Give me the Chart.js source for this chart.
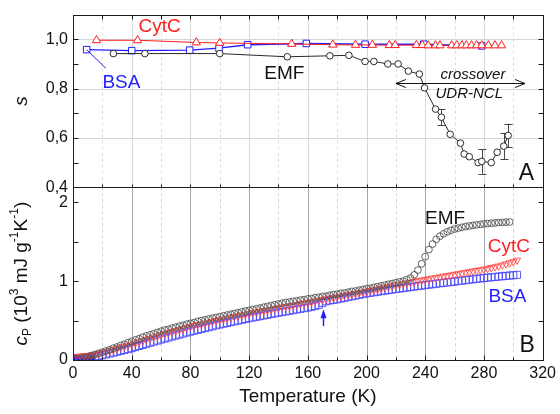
<!DOCTYPE html>
<html>
<head>
<meta charset="utf-8">
<script src="https://cdn.jsdelivr.net/npm/chart.js@4.4.0/dist/chart.umd.min.js"></script>
<style>
  html, body { margin:0; padding:0; background:#fff; }
</style>
</head>
<body>
<canvas id="chart" width="560" height="414"></canvas>
<script>
// ---- panel A: order parameter s(T) ----
const sCytcT = [16, 44, 84, 100, 149, 177, 192.5, 204, 215.5, 219.5, 234, 238, 242, 247, 250, 258, 261.5, 265, 268, 271.5, 275, 278.5, 283, 287.5, 292];
const sCytc  = [0.996, 0.996, 0.987, 0.985, 0.981, 0.978, 0.977, 0.977, 0.976, 0.976, 0.976, 0.976, 0.975, 0.975, 0.975, 0.975, 0.975, 0.975, 0.975, 0.975, 0.975, 0.975, 0.975, 0.975, 0.975];
const sBsaT  = [9.3, 40, 79.5, 99.5, 119, 159, 199, 239, 278.5];
const sBsa   = [0.958, 0.954, 0.956, 0.964, 0.978, 0.983, 0.980, 0.980, 0.973];
const sEmfT  = [27.5, 49, 100, 146, 175, 188, 199, 205, 214.5, 221.5, 228.5, 236, 239.5, 247, 251, 257, 264, 266.5, 270, 276, 278.5, 285, 289, 293.5, 296.5];
const sEmf   = [0.942, 0.942, 0.942, 0.929, 0.933, 0.935, 0.910, 0.910, 0.900, 0.900, 0.871, 0.859, 0.803, 0.717, 0.684, 0.615, 0.579, 0.535, 0.524, 0.500, 0.505, 0.500, 0.542, 0.567, 0.610];
const sEmfErr = [0, 0, 0, 0, 0, 0, 0, 0, 0, 0, 0, 0, 0, 0, 0.032, 0, 0, 0, 0, 0, 0.05, 0, 0, 0.052, 0.048];

// ---- panel B: heat capacity cP(T), 10^3 mJ g^-1 K^-1 ----
const tempB = [2.5,5,7.5,10,12.5,15,17.5,20,22.5,25,27.5,30,32.5,35,37.5,40,42.5,45,47.5,50,52.5,55,57.5,60,62.5,65,67.5,70,72.5,75,77.5,80,82.5,85,87.5,90,92.5,95,97.5,100,102.5,105,107.5,110,112.5,115,117.5,120,122.5,125,127.5,130,132.5,135,137.5,140,142.5,145,147.5,150,152.5,155,157.5,160,162.5,165,167.5,170,172.5,175,177.5,180,182.5,185,187.5,190,192.5,195,197.5,200,202.5,205,207.5,210,212.5,215,217.5,220,222.5,225,227.5,230,232.5,235,237.5,240,242.5,245,247.5,250,252.5,255,257.5,260,262.5,265,267.5,270,272.5,275,277.5,280,282.5,285,287.5,290,292.5,295,297.5,300,302.5];
const cpEmf = [0.01,0.02,0.03,0.04,0.055,0.07,0.085,0.10,0.115,0.13,
  0.15,0.165,0.185,0.20,0.22,0.235,0.255,0.27,0.29,0.305,
  0.32,0.335,0.35,0.365,0.38,0.39,0.405,0.415,0.43,0.44,
  0.455,0.465,0.475,0.49,0.50,0.51,0.52,0.53,0.54,0.55,
  0.56,0.57,0.58,0.59,0.60,0.61,0.62,0.63,0.64,0.65,
  0.66,0.67,0.68,0.69,0.70,0.71,0.72,0.73,0.735,0.745,
  0.75,0.76,0.765,0.775,0.78,0.79,0.795,0.805,0.81,0.82,
  0.83,0.835,0.845,0.85,0.86,0.87,0.875,0.885,0.895,0.905,
  0.91,0.92,0.93,0.94,0.95,0.96,0.97,0.98,0.99,1.00,
  1.02,1.04,1.08,1.14,1.22,1.31,1.40,1.47,1.53,1.57,
  1.60,1.625,1.645,1.66,1.672,1.683,1.693,1.70,1.707,1.713,
  1.72,1.725,1.73,1.735,1.738,1.742,1.745,1.748,1.75];
const cpCytc = [0.040,0.045,0.050,0.055,0.062,0.070,0.080,0.090,0.103,0.117,
  0.131,0.145,0.159,0.172,0.186,0.200,0.215,0.230,0.245,0.260,
  0.275,0.290,0.305,0.320,0.333,0.346,0.359,0.372,0.385,0.398,
  0.412,0.425,0.436,0.447,0.457,0.468,0.478,0.489,0.499,0.510,
  0.520,0.530,0.540,0.550,0.560,0.570,0.580,0.590,0.599,0.608,
  0.616,0.625,0.634,0.643,0.651,0.660,0.669,0.678,0.686,0.695,
  0.704,0.713,0.721,0.730,0.739,0.748,0.756,0.765,0.774,0.783,
  0.791,0.800,0.809,0.818,0.826,0.835,0.844,0.853,0.861,0.870,
  0.880,0.890,0.900,0.910,0.920,0.930,0.940,0.950,0.959,0.968,
  0.976,0.985,0.994,1.003,1.011,1.020,1.028,1.036,1.044,1.053,
  1.061,1.069,1.077,1.085,1.093,1.101,1.109,1.118,1.126,1.134,
  1.142,1.150,1.160,1.170,1.180,1.190,1.203,1.217,1.231,1.245,
  1.265];
const cpBsa = [0.010,0.012,0.015,0.018,0.030,0.040,0.050,0.060,0.070,0.082,
  0.093,0.105,0.116,0.127,0.138,0.150,0.164,0.178,0.191,0.205,
  0.219,0.232,0.246,0.260,0.272,0.285,0.298,0.310,0.322,0.335,
  0.348,0.360,0.371,0.383,0.394,0.405,0.416,0.428,0.439,0.450,
  0.460,0.470,0.480,0.490,0.500,0.510,0.520,0.530,0.539,0.548,
  0.556,0.565,0.574,0.583,0.591,0.600,0.608,0.616,0.624,0.632,
  0.641,0.649,0.657,0.665,0.675,0.685,0.700,0.725,0.745,0.755,
  0.762,0.770,0.779,0.789,0.798,0.808,0.817,0.826,0.836,0.845,
  0.852,0.859,0.866,0.873,0.880,0.886,0.893,0.900,0.906,0.912,
  0.919,0.925,0.931,0.938,0.944,0.950,0.956,0.961,0.967,0.973,
  0.978,0.984,0.989,0.995,1.001,1.006,1.012,1.018,1.023,1.029,
  1.034,1.040,1.044,1.049,1.053,1.058,1.062,1.066,1.071,1.075,
  1.080];
// dense low temperature points
const bsaLowT  = [1,1.5,2,2.5,3,3.5,4,4.5,5,5.5,6,6.5,7,7.5,8,8.5,9,9.5,10,10.5,11,11.5,12];
const bsaLowCp = [0.010,0.010,0.011,0.011,0.012,0.012,0.013,0.013,0.014,0.014,0.015,0.015,0.016,0.016,0.017,0.018,0.019,0.020,0.021,0.022,0.023,0.024,0.025];
const cytcLowT  = [1,2,3,4,5,6,7,8,9,10,11,12];
const cytcLowCp = [0.048,0.050,0.052,0.054,0.055,0.056,0.058,0.060,0.062,0.064,0.066,0.068];

// ---- ticks ----
const tTicks  = [0, 40, 80, 120, 160, 200, 240, 280, 320];
const tMinor  = [20, 60, 100, 140, 180, 220, 260, 300];
const sTicks  = [0.4, 0.6, 0.8, 1.0];
const sMinor  = [0.5, 0.7, 0.9];
const cpTicks = [0, 1, 2];
const cpMinor = [0.5, 1.5];

const FONT = '"Liberation Sans", Arial, Helvetica, sans-serif';
const RED = '#ff1e1e', BLUE = '#1e1eff', DARK = '#2a2a2a';
const asPoints = (xs, ys) => ys.map((v, i) => ({ x: xs[i], y: v }));

// annotations, in data coordinates: [text, T, value, axis, colour, size, italic]
const notes = [
  ['CytC', 59, 1.05, 'yA', RED, 19, false],
  ['BSA', 33, 0.823, 'yA', BLUE, 19, false],
  ['EMF', 144, 0.861, 'yA', '#111', 19, false],
  ['crossover', 272.5, 0.855, 'yA', '#111', 15, true],
  ['UDR-NCL', 270, 0.777, 'yA', '#111', 15, true],
  ['A', 309, 0.455, 'yA', '#111', 23, false],
  ['EMF', 253.5, 1.794, 'yB', '#111', 19, false],
  ['CytC', 297, 1.434, 'yB', RED, 19, false],
  ['BSA', 296, 0.80, 'yB', BLUE, 19, false],
  ['B', 309.5, 0.18, 'yB', '#111', 23, false]
];

function px(v) { return Math.round(v) + 0.5; }

function richText(ctx, parts) {
  // parts: [text, size, italic, shift]
  let total = 0;
  parts.forEach(p => {
    ctx.font = (p[2] ? 'italic ' : '') + p[1] + 'px ' + FONT;
    p.w = ctx.measureText(p[0]).width;
    total += p.w;
  });
  let x = -total / 2;
  parts.forEach(p => {
    ctx.font = (p[2] ? 'italic ' : '') + p[1] + 'px ' + FONT;
    ctx.fillText(p[0], x, p[3]);
    x += p.w;
  });
}

const deco = {
  id: 'deco',
  beforeDatasetsDraw(chart) {
    const { ctx, chartArea: ca, scales: { x, yA, yB } } = chart;
    ctx.save();
    ctx.lineWidth = 1;
    // panel A grid
    tTicks.slice(1, -1).forEach(t => {
      ctx.strokeStyle = '#d8d8d8'; ctx.setLineDash([]);
      ctx.beginPath(); ctx.moveTo(px(x.getPixelForValue(t)), yA.top); ctx.lineTo(px(x.getPixelForValue(t)), yA.bottom); ctx.stroke();
    });
    tMinor.forEach(t => {
      ctx.strokeStyle = '#dcdcdc'; ctx.setLineDash([3, 3]);
      ctx.beginPath(); ctx.moveTo(px(x.getPixelForValue(t)), yA.top); ctx.lineTo(px(x.getPixelForValue(t)), yA.bottom); ctx.stroke();
    });
    ctx.setLineDash([]);
    ctx.strokeStyle = '#d6d6d6';
    sTicks.slice(1).forEach(v => {
      const y = px(yA.getPixelForValue(v));
      ctx.beginPath(); ctx.moveTo(ca.left, y); ctx.lineTo(ca.right, y); ctx.stroke();
    });
    // panel B grid
    tTicks.slice(1, -1).forEach(t => {
      ctx.strokeStyle = '#a5a5a5'; ctx.setLineDash([]);
      ctx.beginPath(); ctx.moveTo(px(x.getPixelForValue(t)), yB.top); ctx.lineTo(px(x.getPixelForValue(t)), yB.bottom); ctx.stroke();
    });
    tMinor.forEach(t => {
      ctx.strokeStyle = '#d2d2d2'; ctx.setLineDash([3, 3]);
      ctx.beginPath(); ctx.moveTo(px(x.getPixelForValue(t)), yB.top); ctx.lineTo(px(x.getPixelForValue(t)), yB.bottom); ctx.stroke();
    });
    ctx.setLineDash([]);
    // error bars on EMF s
    ctx.strokeStyle = '#444';
    sEmfErr.forEach((e, i) => {
      if (!e) return;
      const xx = px(x.getPixelForValue(sEmfT[i]));
      const y1 = yA.getPixelForValue(sEmf[i] + e), y2 = yA.getPixelForValue(sEmf[i] - e);
      ctx.beginPath();
      ctx.moveTo(xx, y1); ctx.lineTo(xx, y2);
      ctx.moveTo(xx - 4, px(y1)); ctx.lineTo(xx + 4, px(y1));
      ctx.moveTo(xx - 4, px(y2)); ctx.lineTo(xx + 4, px(y2));
      ctx.stroke();
    });
    ctx.restore();
  },
  afterDatasetsDraw(chart) {
    const { ctx, chartArea: ca, scales: { x, yA, yB } } = chart;
    ctx.save();
    ctx.strokeStyle = '#1a1a1a';
    ctx.lineWidth = 1;
    const L = px(ca.left), R = px(ca.right);
    [yA, yB].forEach(s => {
      ctx.strokeRect(L, px(s.top), R - L, px(s.bottom) - px(s.top));
    });
    ctx.beginPath();
    // y ticks, inward on both sides
    const yTick = (s, v, len) => {
      const y = px(s.getPixelForValue(v));
      ctx.moveTo(L, y); ctx.lineTo(L + len, y);
      ctx.moveTo(R, y); ctx.lineTo(R - len, y);
    };
    sTicks.concat(sMinor).forEach(v => yTick(yA, v, 5));
    cpTicks.concat(cpMinor).forEach(v => yTick(yB, v, 5));
    // x ticks
    const xTick = (t, y0, len) => {
      const xx = px(x.getPixelForValue(t));
      ctx.moveTo(xx, y0); ctx.lineTo(xx, y0 + len);
    };
    tTicks.slice(1, -1).forEach(t => { xTick(t, px(yB.bottom), -5); xTick(t, px(yA.top), 4); xTick(t, px(yA.bottom), -3); });
    tMinor.forEach(t => { xTick(t, px(yB.bottom), -3); xTick(t, px(yA.top), 4); xTick(t, px(yA.bottom), -3); });
    ctx.stroke();

    // BSA leader line
    ctx.strokeStyle = BLUE;
    ctx.beginPath();
    ctx.moveTo(x.getPixelForValue(sBsaT[0]), yA.getPixelForValue(sBsa[0]));
    ctx.lineTo(x.getPixelForValue(22.5), yA.getPixelForValue(0.882));
    ctx.stroke();

    // crossover double arrow
    ctx.strokeStyle = '#111';
    const ay = px(yA.getPixelForValue(0.821));
    const ax1 = x.getPixelForValue(220), ax2 = x.getPixelForValue(308);
    ctx.beginPath();
    ctx.moveTo(ax1, ay); ctx.lineTo(ax2, ay);
    ctx.moveTo(ax1 + 10, ay - 4); ctx.lineTo(ax1, ay); ctx.lineTo(ax1 + 10, ay + 4);
    ctx.moveTo(ax2 - 10, ay - 4); ctx.lineTo(ax2, ay); ctx.lineTo(ax2 - 10, ay + 4);
    ctx.stroke();

    // blue arrow at 170 K
    const bx = px(x.getPixelForValue(170));
    const bTop = yB.getPixelForValue(0.645), bBot = yB.getPixelForValue(0.43);
    ctx.strokeStyle = BLUE; ctx.fillStyle = BLUE; ctx.lineWidth = 1.5;
    ctx.beginPath(); ctx.moveTo(bx, bBot); ctx.lineTo(bx, bTop + 6); ctx.stroke();
    ctx.beginPath(); ctx.moveTo(bx, bTop); ctx.lineTo(bx - 3, bTop + 9); ctx.lineTo(bx + 3, bTop + 9); ctx.closePath(); ctx.fill();

    // labels
    ctx.textAlign = 'center';
    ctx.textBaseline = 'middle';
    notes.forEach(n => {
      ctx.fillStyle = n[4];
      ctx.font = (n[6] ? 'italic ' : '') + n[5] + 'px ' + FONT;
      ctx.fillText(n[0], x.getPixelForValue(n[1]), chart.scales[n[3]].getPixelForValue(n[2]));
    });

    // axis titles
    ctx.fillStyle = '#111';
    ctx.textAlign = 'left';
    ctx.save();
    ctx.translate(22, (yA.top + yA.bottom) / 2);
    ctx.rotate(-Math.PI / 2);
    richText(ctx, [['s', 19, true, 0]]);
    ctx.restore();
    ctx.save();
    ctx.translate(22, (yB.top + yB.bottom) / 2);
    ctx.rotate(-Math.PI / 2);
    richText(ctx, [['c', 19, true, 0], ['P', 12, false, 6], [' (10', 19, false, 0], ['3', 12, false, -7],
      [' mJ g', 19, false, 0], ['-1', 12, false, -7], ['K', 19, false, 0], ['-1', 12, false, -7], [')', 19, false, 0]]);
    ctx.restore();
    ctx.restore();
  }
};

const tickFont = { family: FONT, size: 16 };

new Chart(document.getElementById('chart'), {
  type: 'line',
  data: {
    datasets: [
      { label: 'EMF s', yAxisID: 'yA', data: asPoints(sEmfT, sEmf), borderColor: DARK, borderWidth: 1,
        pointStyle: 'circle', pointRadius: 3.3, pointBorderColor: DARK, pointBackgroundColor: '#fff', pointBorderWidth: 1 },
      { label: 'CytC s', yAxisID: 'yA', data: asPoints(sCytcT, sCytc), borderColor: RED, borderWidth: 1,
        pointStyle: 'triangle', pointRadius: 4.8, pointBorderColor: RED, pointBackgroundColor: '#fff', pointBorderWidth: 1 },
      { label: 'BSA s', yAxisID: 'yA', data: asPoints(sBsaT, sBsa), borderColor: BLUE, borderWidth: 1.4,
        pointStyle: 'rect', pointRadius: 4.6, pointBorderColor: BLUE, pointBackgroundColor: '#fff', pointBorderWidth: 1 },
      { label: 'EMF cP', yAxisID: 'yB', data: asPoints(tempB, cpEmf), showLine: false,
        pointStyle: 'circle', pointRadius: 3.4, pointBorderColor: '#555', pointBackgroundColor: 'rgba(0,0,0,0)', pointBorderWidth: 0.9 },
      { label: 'CytC cP', yAxisID: 'yB', data: asPoints(tempB, cpCytc), showLine: false,
        pointStyle: 'triangle', pointRotation: 180, pointRadius: 4.2, pointBorderColor: '#ff4848', pointBackgroundColor: 'rgba(0,0,0,0)', pointBorderWidth: 0.9 },
      { label: 'BSA cP', yAxisID: 'yB', data: asPoints(tempB, cpBsa), showLine: false,
        pointStyle: 'rect', pointRadius: 5, pointBorderColor: '#4848ff', pointBackgroundColor: 'rgba(0,0,0,0)', pointBorderWidth: 0.9 },
      { label: 'CytC cP low', yAxisID: 'yB', data: asPoints(cytcLowT, cytcLowCp), showLine: false,
        pointStyle: 'triangle', pointRadius: 2, pointBorderColor: RED, pointBackgroundColor: RED, pointBorderWidth: 1 },
      { label: 'BSA cP low', yAxisID: 'yB', data: asPoints(bsaLowT, bsaLowCp), showLine: false,
        pointStyle: 'rect', pointRadius: 5, pointBorderColor: '#0000e0', pointBackgroundColor: '#0000e0', pointBorderWidth: 1 }
    ]
  },
  options: {
    responsive: false,
    animation: false,
    events: [],
    layout: { padding: { left: 0, right: 17, top: 14, bottom: 0 } },
    plugins: { legend: { display: false }, tooltip: { enabled: false } },
    scales: {
      x: {
        type: 'linear', min: 0, max: 320,
        afterBuildTicks: s => { s.ticks = tTicks.map(v => ({ value: v })); },
        ticks: { font: tickFont, color: '#111', padding: 4, maxRotation: 0, autoSkip: false, callback: v => String(v) },
        grid: { display: false, drawTicks: false }, border: { display: false },
        title: { display: true, text: 'Temperature (K)', color: '#111', font: { family: FONT, size: 19 }, padding: { top: 6, bottom: 6 } },
        afterFit: s => { s.height = 54; }
      },
      yB: {
        type: 'linear', position: 'left', stack: 'panels', stackWeight: 1, min: 0, max: 2.19,
        afterBuildTicks: s => { s.ticks = cpTicks.map(v => ({ value: v })); },
        ticks: { font: tickFont, color: '#111', padding: 5, autoSkip: false, callback: v => String(v) },
        grid: { display: false, drawTicks: false }, border: { display: false },
        afterFit: s => { s.width = 73; }
      },
      yA: {
        type: 'linear', position: 'left', stack: 'panels', stackWeight: 1, min: 0.4, max: 1.1,
        afterBuildTicks: s => { s.ticks = sTicks.map(v => ({ value: v })); },
        ticks: { font: tickFont, color: '#111', padding: 5, autoSkip: false, callback: v => v.toFixed(1).replace('.', ',') },
        grid: { display: false, drawTicks: false }, border: { display: false },
        afterFit: s => { s.width = 73; }
      }
    }
  },
  plugins: [deco]
});
</script>
</body>
</html>
